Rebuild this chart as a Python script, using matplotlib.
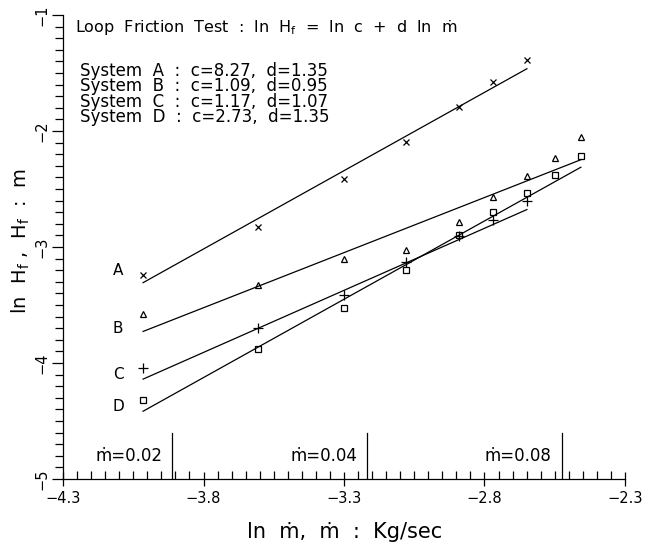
import matplotlib
matplotlib.use("Agg")
import matplotlib.pyplot as plt
import numpy as np
from matplotlib.ticker import MultipleLocator

plt.rcParams['font.family'] = 'DejaVu Sans'
plt.rcParams['mathtext.fontset'] = 'dejavusans'

# ln(mass flow) values of the measured points
x_all = [-4.015, -3.606, -3.300, -3.079, -2.891, -2.770, -2.649, -2.549, -2.457]

# ln H_f for each system
y_a = [-3.241, -2.828, -2.414, -2.095, -1.793, -1.578, -1.388]
y_b = [-3.578, -3.328, -3.103, -3.026, -2.784, -2.569, -2.392, -2.233, -2.052]
y_c = [-4.043, -3.698, -3.410, -3.129, -2.905, -2.767, -2.603]
y_d = [-4.319, -3.879, -3.526, -3.198, -2.897, -2.698, -2.534, -2.383, -2.220]

systems = ['A', 'B', 'C', 'D']
c_vals = [8.27, 1.09, 1.17, 2.73]
d_vals = [1.35, 0.95, 1.07, 1.35]
markers = ['x', '^', '+', 's']
label_y = [-3.207, -3.707, -4.095, -4.371]

mdot_marks = [0.02, 0.04, 0.08]

fig = plt.figure(figsize=(6.51, 5.54), dpi=100)
ax = fig.add_axes([0.0968, 0.1354, 0.8632, 0.8376])

series = [y_a, y_b, y_c, y_d]
for name, ys, c, d, mk, ly in zip(systems, series, c_vals, d_vals, markers, label_y):
    xs = np.array(x_all[:len(ys)])
    ax.plot(xs, ys, linestyle='none', marker=mk, color='black',
            markersize=5 if mk != '+' else 7, markeredgewidth=0.9,
            fillstyle='none')
    xl = np.array([xs.min(), xs.max()])
    ax.plot(xl, np.log(c) + d * xl, color='black', lw=0.9)
    ax.text(-4.104, ly, name, fontsize=11, ha='center', va='center')

for m in mdot_marks:
    lm = np.log(m)
    ax.plot([lm, lm], [-5, -4.6], color='black', lw=0.9)
    ax.text(lm - 0.035, -4.80, 'ṁ=%.2f' % m, fontsize=12, ha='right', va='center')

ax.text(-4.257, -1.112, r'Loop  Friction  Test  :  ln  H$_{\rm f}$  =  ln  c  +  d  ln  ṁ',
        fontsize=11.5, ha='left', va='center')

# coefficient table as one text block
lines = ['System  %s  :  c=%.2f,  d=%.2f' % (n, c, d)
         for n, c, d in zip(systems, c_vals, d_vals)]
ax.text(-4.240, -1.68, '\n'.join(lines), fontsize=12, ha='left', va='center',
        linespacing=0.82)

ax.set_xlim(-4.3, -2.3)
ax.set_ylim(-5, -1)
ax.set_xticks([-4.3, -3.8, -3.3, -2.8, -2.3])
ax.set_yticks([-5, -4, -3, -2, -1])
ax.xaxis.set_minor_locator(MultipleLocator(0.05))
ax.yaxis.set_minor_locator(MultipleLocator(0.1))
ax.tick_params(axis='x', which='major', direction='inout', length=10, width=0.9,
               labelsize=10.5, pad=4)
ax.tick_params(axis='x', which='minor', direction='in', length=6, width=0.9)
ax.tick_params(axis='y', which='major', direction='out', length=8, width=0.9,
               labelsize=10.5, pad=2)
ax.tick_params(axis='y', which='minor', direction='out', length=6, width=0.9)
ax.set_xticklabels(['\u22124.3', '\u22123.8', '\u22123.3', '\u22122.8', '\u22122.3'])
ax.set_yticklabels(['\u22125', '\u22124', '\u22123', '\u22122', '\u22121'],
                   rotation=90, va='center')

for s in ['top', 'right']:
    ax.spines[s].set_visible(False)
for s in ['left', 'bottom']:
    ax.spines[s].set_linewidth(0.9)

fig.text(0.53, 0.022, 'ln  ṁ,  ṁ  :  Kg/sec', fontsize=15, ha='center', va='bottom')
fig.text(0.032, 0.565, r'ln  H$_{\rm f}$ ,  H$_{\rm f}$  :  m', fontsize=14,
         rotation=90, ha='center', va='center')

fig.savefig('out.png', dpi=100)
